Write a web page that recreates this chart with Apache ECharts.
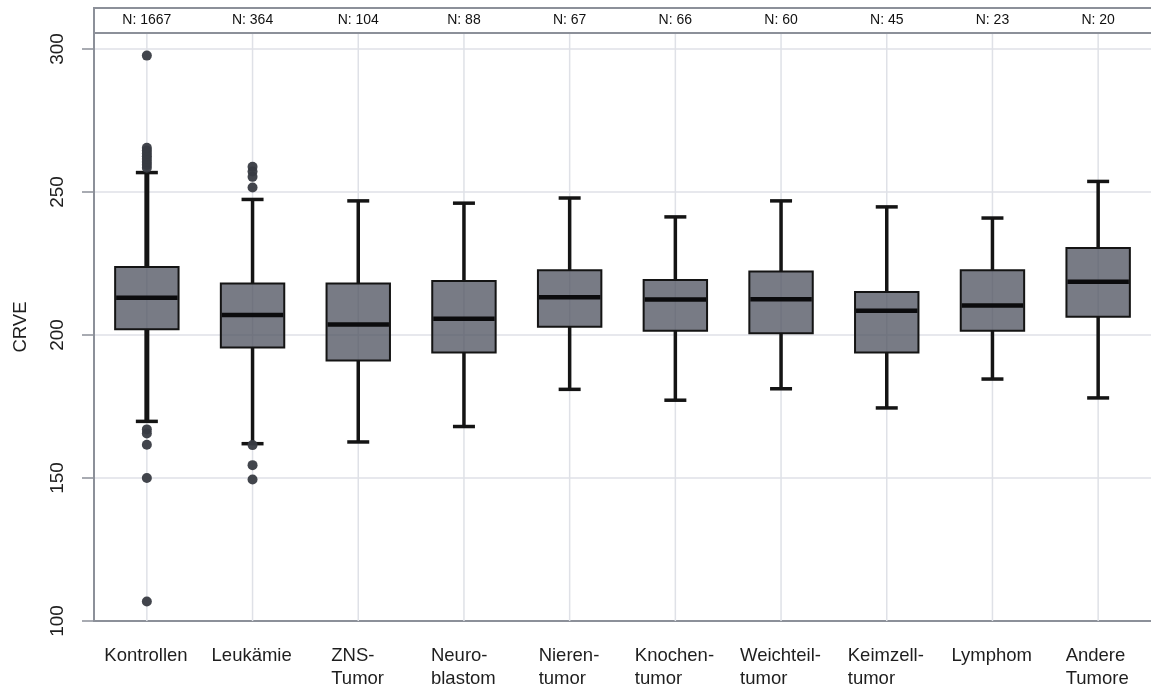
<!DOCTYPE html>
<html>
<head>
<meta charset="utf-8">
<script src="https://cdn.jsdelivr.net/npm/echarts@6/dist/echarts.min.js"></script>
<style>
  html, body { margin: 0; padding: 0; background: #fff; }
  #chart { width: 1151px; height: 688px; }
</style>
</head>
<body>
<div id="chart"></div>
<script>
// Groups along the x axis
const categories = ['Kontrollen', 'Leukämie', 'ZNS-\nTumor', 'Neuro-\nblastom', 'Nieren-\ntumor',
  'Knochen-\ntumor', 'Weichteil-\ntumor', 'Keimzell-\ntumor', 'Lymphom', 'Andere\nTumore'];

// Group sizes shown in the strip above the plot
const groupSizes = [1667, 364, 104, 88, 67, 66, 60, 45, 23, 20];

// Five-number summaries: lower whisker, Q1, median, Q3, upper whisker
const lowerWhisker = [169.8, 162.0, 162.6, 168.0, 181.0, 177.2, 181.2, 174.5, 184.6, 178.0];
const quartile1    = [202.0, 195.6, 191.1, 193.9, 202.9, 201.5, 200.6, 193.9, 201.5, 206.4];
const medians      = [213.0, 207.0, 203.7, 205.7, 213.2, 212.4, 212.5, 208.5, 210.3, 218.6];
const quartile3    = [223.8, 218.0, 218.0, 218.9, 222.6, 219.2, 222.2, 215.0, 222.6, 230.4];
const upperWhisker = [256.8, 247.4, 246.9, 246.1, 247.9, 241.3, 246.9, 244.8, 240.9, 253.7];

// Points beyond the whiskers, per group
const outliersKontrollen = [258.5, 259.5, 260.5, 261.5, 262.5, 263.5, 264.5, 265.5, 297.7,
  167.0, 165.6, 161.6, 150.0, 106.8];
const outliersLeukaemie = [258.8, 257.2, 255.3, 251.6, 161.5, 154.5, 149.5];

// y axis ticks
const yTicks = [100, 150, 200, 250, 300];

const boxData = categories.map((c, i) =>
  [i, lowerWhisker[i], quartile1[i], medians[i], quartile3[i], upperWhisker[i]]);

const outlierData = [
  ...outliersKontrollen.map(v => [0, v]),
  ...outliersLeukaemie.map(v => [1, v])
];

const ink = '#141414';
const frameGray = '#8c9099';
const gridGray = '#dfe1e7';
const font = 'Liberation Sans, Arial, sans-serif';
const catFontSize = 18.5;
const catLineHeight = 23;

// Category labels: each block is centred under its group, its lines left-aligned.
const measureCtx = document.createElement('canvas').getContext('2d');
measureCtx.font = catFontSize + 'px ' + font;
const catRich = {};
categories.forEach((c, i) => {
  const w = Math.max(...c.split('\n').map(l => measureCtx.measureText(l).width));
  catRich['c' + i] = {
    width: Math.ceil(w) + 1, align: 'left', fontSize: catFontSize,
    lineHeight: catLineHeight, color: '#1e1e1e', fontFamily: font
  };
});

function renderBox(params, api) {
  const idx = api.value(0);
  const lo = api.coord([idx, api.value(1)]);
  const q1 = api.coord([idx, api.value(2)]);
  const md = api.coord([idx, api.value(3)]);
  const q3 = api.coord([idx, api.value(4)]);
  const hi = api.coord([idx, api.value(5)]);
  const band = api.size([1, 0])[0];
  const bw = band * 0.6;
  const cw = 22;
  const x = q1[0];
  // the control group's whisker is drawn heavier
  const whiskerWidth = idx === 0 ? 5 : 3.5;
  return {
    type: 'group',
    children: [
      { type: 'line', shape: { x1: x, y1: q1[1], x2: x, y2: lo[1] },
        style: { stroke: ink, lineWidth: whiskerWidth } },
      { type: 'line', shape: { x1: x, y1: q3[1], x2: x, y2: hi[1] },
        style: { stroke: ink, lineWidth: whiskerWidth } },
      { type: 'line', shape: { x1: x - cw / 2, y1: lo[1], x2: x + cw / 2, y2: lo[1] },
        style: { stroke: ink, lineWidth: 3.5 } },
      { type: 'line', shape: { x1: x - cw / 2, y1: hi[1], x2: x + cw / 2, y2: hi[1] },
        style: { stroke: ink, lineWidth: 3.5 } },
      { type: 'rect', shape: { x: x - bw / 2, y: q3[1], width: bw, height: q1[1] - q3[1] },
        style: { fill: 'rgba(78,82,94,0.76)', stroke: ink, lineWidth: 2 } },
      { type: 'line', shape: { x1: x - bw / 2 + 1, y1: md[1], x2: x + bw / 2 - 1, y2: md[1] },
        style: { stroke: '#0b0b0d', lineWidth: 4.5 } }
    ]
  };
}

const chart = echarts.init(document.getElementById('chart'), null, { renderer: 'canvas' });

const gridLeft = 94, gridRight = 0, gridTop = 33, gridBottom = 67;

chart.setOption({
  animation: false,
  backgroundColor: '#ffffff',
  textStyle: { fontFamily: font },
  grid: {
    left: gridLeft, right: gridRight, top: gridTop, bottom: gridBottom,
    containLabel: false, outerBoundsMode: 'none'
  },
  xAxis: [
    {
      type: 'category',
      data: categories,
      boundaryGap: true,
      axisLine: { show: true, lineStyle: { color: frameGray, width: 2 } },
      axisTick: { show: false },
      axisLabel: {
        color: '#1e1e1e', fontSize: catFontSize, margin: 23, lineHeight: catLineHeight,
        interval: 0, fontFamily: font,
        formatter: (value, index) => value.split('\n').map(l => `{c${index}|${l}}`).join('\n'),
        rich: catRich
      },
      splitLine: { show: false }
    },
    {
      type: 'category',
      position: 'top',
      data: groupSizes.map(n => 'N: ' + n),
      boundaryGap: true,
      axisLine: { show: false },
      axisTick: { show: false },
      axisLabel: {
        color: '#111', fontSize: 14, margin: 6, interval: 0, fontFamily: font
      }
    }
  ],
  yAxis: {
    type: 'value',
    min: 100,
    max: 305.6,
    interval: 50,
    name: 'CRVE',
    nameLocation: 'middle',
    nameGap: 64,
    nameRotate: 90,
    nameTextStyle: { color: '#1e1e1e', fontSize: 18.5, fontFamily: font },
    axisLine: { show: true, lineStyle: { color: frameGray, width: 2 } },
    axisTick: { show: true, length: 12, lineStyle: { color: frameGray, width: 1.5 }, customValues: yTicks },
    axisLabel: {
      color: '#1e1e1e', fontSize: 19, rotate: 90, margin: 27,
      customValues: yTicks, fontFamily: font
    },
    splitLine: { show: true, lineStyle: { color: gridGray, width: 1.5 } }
  },
  series: [
    {
      // vertical guide lines through each group centre
      type: 'custom',
      silent: true,
      z: 1,
      data: categories.map((c, i) => [i]),
      renderItem(params, api) {
        const p = api.coord([api.value(0), 0]);
        const cs = params.coordSys;
        return {
          type: 'line',
          shape: { x1: p[0], y1: cs.y, x2: p[0], y2: cs.y + cs.height },
          style: { stroke: gridGray, lineWidth: 1.5 }
        };
      }
    },
    {
      type: 'custom',
      z: 3,
      data: boxData,
      encode: { x: 0, y: [1, 2, 3, 4, 5] },
      renderItem: renderBox
    },
    {
      type: 'scatter',
      z: 4,
      data: outlierData,
      symbol: 'circle',
      symbolSize: 10,
      itemStyle: { color: '#383b42', opacity: 0.95 }
    }
  ],
  graphic: [
    {
      // header strip holding the group sizes
      type: 'rect',
      shape: { x: gridLeft, y: 8, width: 1151 - gridLeft + 4, height: gridTop - 8 },
      style: { fill: 'none', stroke: frameGray, lineWidth: 2 },
      z: 10
    }
  ]
});
</script>
</body>
</html>
